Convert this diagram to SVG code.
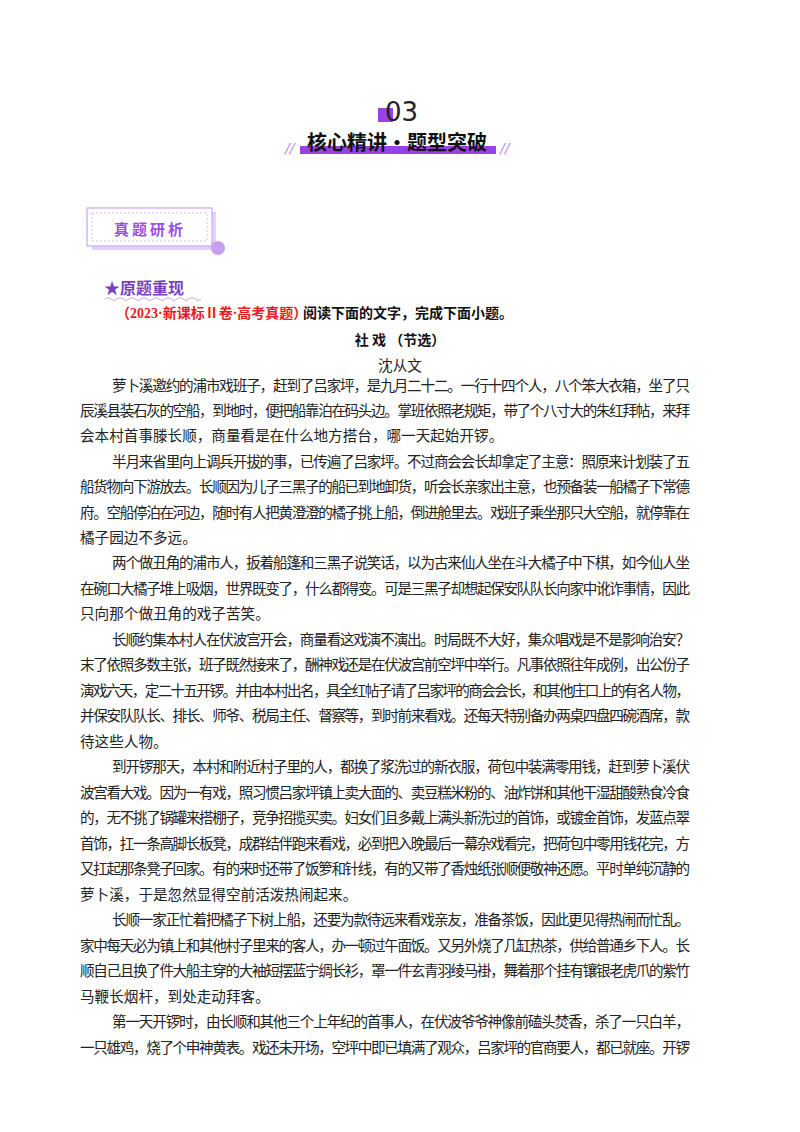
<svg xmlns="http://www.w3.org/2000/svg" width="800" height="1132" viewBox="0 0 800 1132">
<style>
.b{font-family:"Noto Sans CJK SC",sans-serif;font-size:14.6px;fill:#222}
.h{font-family:"Noto Sans CJK SC",sans-serif;font-weight:bold}
</style>
<rect width="800" height="1132" fill="#fff"/>
<g id="header">
<rect x="378" y="108" width="15" height="14" fill="#9b3fe6"/>
<text x="385" y="121" font-family="DejaVu Sans,sans-serif" font-size="26" fill="#222">03</text>
<rect x="300" y="146" width="196" height="8" fill="#9b3fe6"/>
<text x="307" y="150" class="h" font-size="20" fill="#111">核心精讲•题型突破</text>
<text x="285" y="153" font-family="DejaVu Sans,sans-serif" font-size="14" fill="#b98cf0" font-style="italic">//</text>
<text x="500" y="153" font-family="DejaVu Sans,sans-serif" font-size="14" fill="#b98cf0" font-style="italic">//</text>
</g>
<g id="box">
<rect x="92" y="212" width="124" height="38" fill="#e4d2fb"/>
<rect x="87" y="208" width="125" height="38" fill="#fff" stroke="#c9a6f5" stroke-width="1.2"/>
<rect x="92" y="213" width="115" height="28" fill="none" stroke="#c9a6f5" stroke-width="0.8" stroke-dasharray="2,2"/>
<circle cx="218" cy="248" r="7" fill="#c8a0f2"/>
<text x="150" y="235" text-anchor="middle" class="h" font-size="15" fill="#9b4fe0" letter-spacing="3">真题研析</text>
</g>
<g id="sec">
<text x="104" y="294" class="h" font-size="16" fill="#7a3fc0">★原题重现</text>
<path d="M105 299 q3 -3 6 0 t6 0 t6 0 t6 0 t6 0 t6 0 t6 0 t6 0 t6 0 t6 0 t6 0 t6 0 t6 0 t6 0 t6 0 t6 0" fill="none" stroke="#c9a6f5" stroke-width="1"/>
<text x="116" y="318" font-family="Liberation Serif,'Noto Sans CJK SC',serif" font-weight="bold" font-size="14" fill="#e51c1c">（2023·新课标Ⅱ卷·高考真题）</text>
<text x="303" y="318" class="h" font-size="14" fill="#111">阅读下面的文字，完成下面小题。</text>
<text x="400" y="345" text-anchor="middle" class="h" font-size="14" fill="#111">社 戏 （节选）</text>
<text x="400" y="371" text-anchor="middle" class="b" font-size="14" fill="#444">沈从文</text>
</g>
<g id="body" class="b">
<text x="112" y="391" textLength="578">萝卜溪邀约的浦市戏班子，赶到了吕家坪，是九月二十二。一行十四个人，八个笨大衣箱，坐了只</text>
<text x="80" y="416" textLength="610">辰溪县装石灰的空船，到地时，便把船靠泊在码头边。掌班依照老规矩，带了个八寸大的朱红拜帖，来拜</text>
<text x="80" y="441">会本村首事滕长顺，商量看是在什么地方搭台，哪一天起始开锣。</text>
<text x="112" y="467" textLength="578">半月来省里向上调兵开拔的事，已传遍了吕家坪。不过商会会长却拿定了主意：照原来计划装了五</text>
<text x="80" y="492" textLength="610">船货物向下游放去。长顺因为儿子三黑子的船已到地卸货，听会长亲家出主意，也预备装一船橘子下常德</text>
<text x="80" y="518" textLength="610">府。空船停泊在河边，随时有人把黄澄澄的橘子挑上船，倒进舱里去。戏班子乘坐那只大空船，就停靠在</text>
<text x="80" y="543">橘子园边不多远。</text>
<text x="112" y="568" textLength="578">两个做丑角的浦市人，扳着船篷和三黑子说笑话，以为古来仙人坐在斗大橘子中下棋，如今仙人坐</text>
<text x="80" y="594" textLength="610">在碗口大橘子堆上吸烟，世界既变了，什么都得变。可是三黑子却想起保安队队长向家中讹诈事情，因此</text>
<text x="80" y="619">只向那个做丑角的戏子苦笑。</text>
<text x="112" y="645" textLength="578">长顺约集本村人在伏波宫开会，商量看这戏演不演出。时局既不大好，集众唱戏是不是影响治安？</text>
<text x="80" y="670" textLength="610">末了依照多数主张，班子既然接来了，酬神戏还是在伏波宫前空坪中举行。凡事依照往年成例，出公份子</text>
<text x="80" y="696" textLength="610">演戏六天，定二十五开锣。并由本村出名，具全红帖子请了吕家坪的商会会长，和其他庄口上的有名人物，</text>
<text x="80" y="721" textLength="610">并保安队队长、排长、师爷、税局主任、督察等，到时前来看戏。还每天特别备办两桌四盘四碗酒席，款</text>
<text x="80" y="747">待这些人物。</text>
<text x="112" y="772" textLength="578">到开锣那天，本村和附近村子里的人，都换了浆洗过的新衣服，荷包中装满零用钱，赶到萝卜溪伏</text>
<text x="80" y="798" textLength="610">波宫看大戏。因为一有戏，照习惯吕家坪镇上卖大面的、卖豆糕米粉的、油炸饼和其他干湿甜酸熟食冷食</text>
<text x="80" y="823" textLength="610">的，无不挑了锅罐来搭棚子，竞争招揽买卖。妇女们且多戴上满头新洗过的首饰，或镀金首饰，发蓝点翠</text>
<text x="80" y="849" textLength="610">首饰，扛一条高脚长板凳，成群结伴跑来看戏，必到把入晚最后一幕杂戏看完，把荷包中零用钱花完，方</text>
<text x="80" y="874" textLength="610">又扛起那条凳子回家。有的来时还带了饭箩和针线，有的又带了香烛纸张顺便敬神还愿。平时单纯沉静的</text>
<text x="80" y="900">萝卜溪，于是忽然显得空前活泼热闹起来。</text>
<text x="112" y="925" textLength="578">长顺一家正忙着把橘子下树上船，还要为款待远来看戏亲友，准备茶饭，因此更见得热闹而忙乱。</text>
<text x="80" y="951" textLength="610">家中每天必为镇上和其他村子里来的客人，办一顿过午面饭。又另外烧了几缸热茶，供给普通乡下人。长</text>
<text x="80" y="976" textLength="610">顺自己且换了件大船主穿的大袖短摆蓝宁绸长衫，罩一件玄青羽绫马褂，舞着那个挂有镶银老虎爪的紫竹</text>
<text x="80" y="1002">马鞭长烟杆，到处走动拜客。</text>
<text x="112" y="1027" textLength="578">第一天开锣时，由长顺和其他三个上年纪的首事人，在伏波爷爷神像前磕头焚香，杀了一只白羊，</text>
<text x="80" y="1053" textLength="610">一只雄鸡，烧了个申神黄表。戏还未开场，空坪中即已填满了观众，吕家坪的官商要人，都已就座。开锣</text>
</g>
</svg>
